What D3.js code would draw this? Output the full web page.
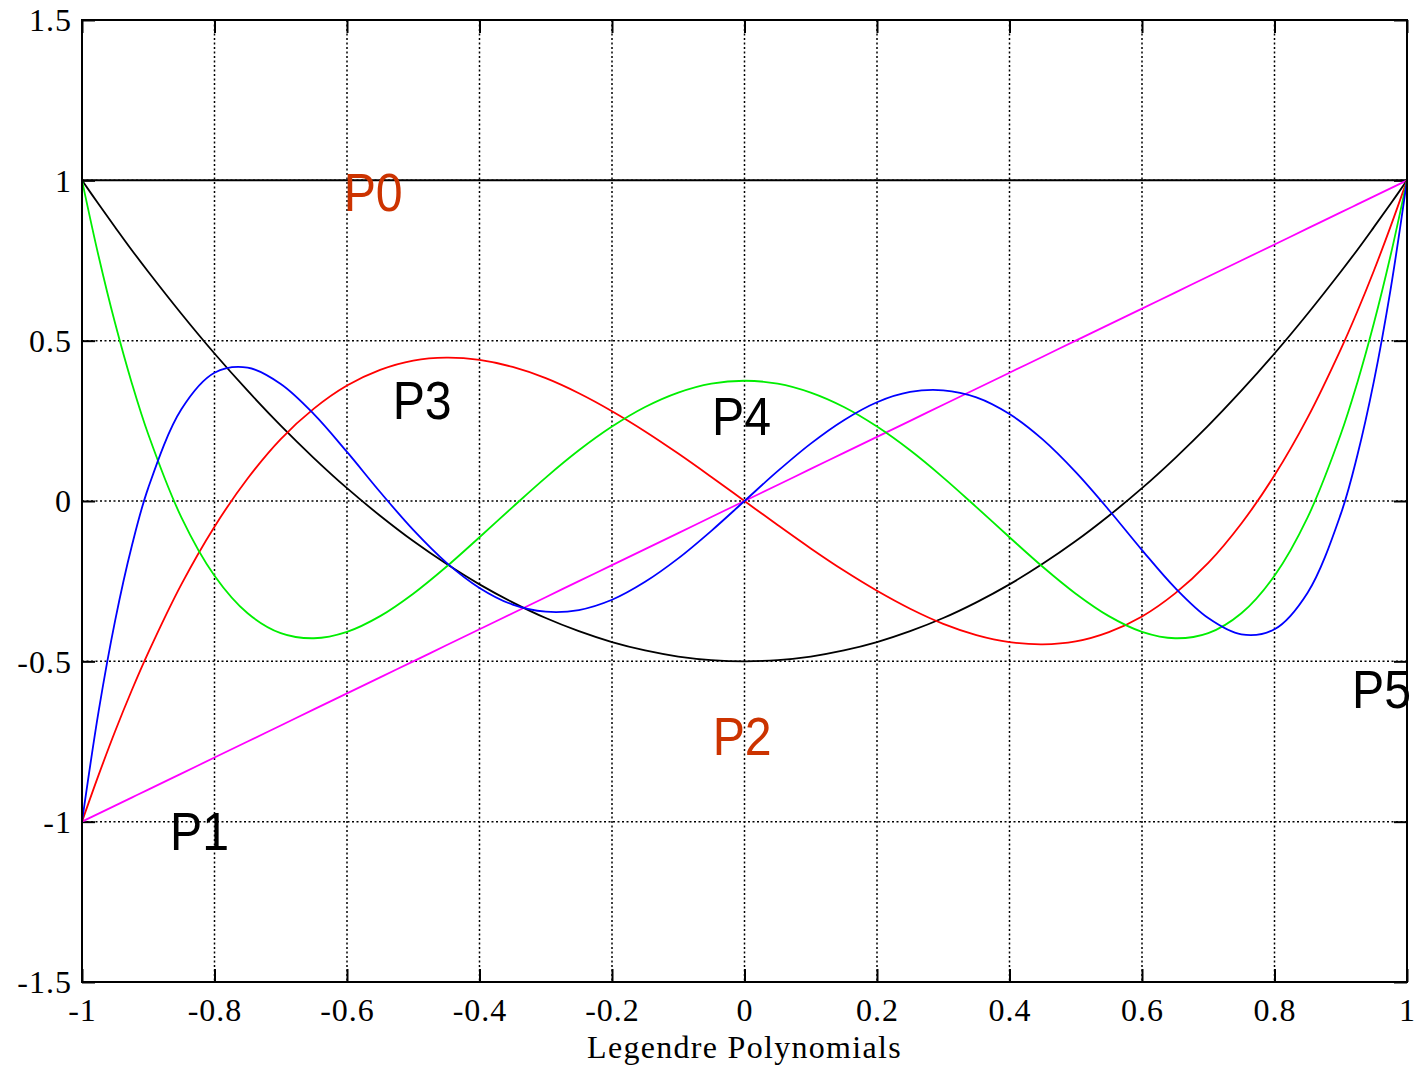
<!DOCTYPE html>
<html>
<head>
<meta charset="utf-8">
<script src="https://cdn.jsdelivr.net/npm/d3@7"></script>
<style>
  html, body { margin: 0; padding: 0; background: #fff; }
  svg { display: block; }
  .tick-label { font-family: "Liberation Serif", "Times New Roman", serif; font-size: 32px; letter-spacing: 1px; fill: #000; }
  .poly-label { font-family: "Liberation Sans", Arial, sans-serif; font-size: 53px; }
</style>
</head>
<body>
<div id="chart"></div>
<script>
// sample positions along the x axis
const xs = [-1, -0.975, -0.95, -0.925, -0.9, -0.85, -0.8, -0.75, -0.7, -0.65, -0.6, -0.55, -0.5, -0.45,
  -0.4, -0.35, -0.3, -0.25, -0.2, -0.15, -0.1, -0.05, 0, 0.05, 0.1, 0.15, 0.2, 0.25, 0.3, 0.35, 0.4,
  0.45, 0.5, 0.55, 0.6, 0.65, 0.7, 0.75, 0.8, 0.85, 0.9, 0.925, 0.95, 0.975, 1];

// values, one array per polynomial
const p0 = xs.map(() => 1);
const p1 = xs.slice();
const p2 = [1, 0.926, 0.854, 0.783, 0.715, 0.584, 0.46, 0.344, 0.235, 0.134, 0.04, -0.046, -0.125, -0.196,
  -0.26, -0.316, -0.365, -0.406, -0.44, -0.466, -0.485, -0.496, -0.5, -0.496, -0.485, -0.466, -0.44, -0.406,
  -0.365, -0.316, -0.26, -0.196, -0.125, -0.046, 0.04, 0.134, 0.235, 0.344, 0.46, 0.584, 0.715, 0.783,
  0.854, 0.926, 1];
const p3 = [-1, -0.855, -0.718, -0.591, -0.473, -0.26, -0.08, 0.07, 0.193, 0.288, 0.36, 0.409, 0.438, 0.447,
  0.44, 0.418, 0.383, 0.336, 0.28, 0.217, 0.148, 0.075, 0, -0.075, -0.148, -0.217, -0.28, -0.336, -0.383,
  -0.418, -0.44, -0.447, -0.438, -0.409, -0.36, -0.288, -0.193, -0.07, 0.08, 0.26, 0.473, 0.591, 0.718,
  0.855, 1];
const p4 = [1, 0.764, 0.554, 0.369, 0.208, -0.051, -0.233, -0.35, -0.412, -0.428, -0.408, -0.359, -0.289,
  -0.205, -0.113, -0.019, 0.073, 0.158, 0.232, 0.293, 0.338, 0.366, 0.375, 0.366, 0.338, 0.293, 0.232,
  0.158, 0.073, -0.019, -0.113, -0.205, -0.289, -0.359, -0.408, -0.428, -0.412, -0.35, -0.233, -0.051,
  0.208, 0.369, 0.554, 0.764, 1];
const p5 = [-1, -0.657, -0.373, -0.142, 0.041, 0.286, 0.4, 0.416, 0.365, 0.271, 0.153, 0.028, -0.09, -0.192,
  -0.271, -0.323, -0.345, -0.34, -0.308, -0.252, -0.179, -0.093, 0, 0.093, 0.179, 0.252, 0.308, 0.34,
  0.345, 0.323, 0.271, 0.192, 0.09, -0.028, -0.153, -0.271, -0.365, -0.416, -0.4, -0.286, -0.041, 0.142,
  0.373, 0.657, 1];

const xTicks = [-1, -0.8, -0.6, -0.4, -0.2, 0, 0.2, 0.4, 0.6, 0.8, 1];
const yTicks = [-1.5, -1, -0.5, 0, 0.5, 1, 1.5];

// curve labels, anchored in data units (left edge, baseline)
const labelNames = ['P0', 'P1', 'P2', 'P3', 'P4', 'P5'];
const labelX = [-0.605, -0.867, -0.048, -0.531, -0.049, 0.917];
const labelY = [0.904, -1.088, -0.792, 0.256, 0.206, -0.646];

const W = 1417, H = 1078;
const plotLeft = 82, plotRight = 1407, plotTop = 20, plotBottom = 982;

const series = [
  { values: p0, color: '#000000', width: 2 },
  { values: p1, color: '#ff00ff', width: 1.8 },
  { values: p2, color: '#000000', width: 1.8 },
  { values: p3, color: '#ff0000', width: 1.8 },
  { values: p4, color: '#00ee00', width: 1.8 },
  { values: p5, color: '#0000ff', width: 1.8 }
];
const labelColors = ['#cc3300', '#000', '#cc3300', '#000', '#000', '#000'];

const svg = d3.select('#chart').append('svg')
  .attr('width', W)
  .attr('height', H);

const x = d3.scaleLinear().domain([-1, 1]).range([plotLeft, plotRight]);
const y = d3.scaleLinear().domain([-1.5, 1.5]).range([plotBottom, plotTop]);

// plain hyphen minus, like the original plot
const fmt = d => String(d);

// dotted grid
const grid = svg.append('g')
  .attr('stroke', '#000')
  .attr('stroke-width', 1.5)
  .attr('stroke-dasharray', '2,2.5');
grid.selectAll('.gx').data(xTicks.slice(1, -1)).enter().append('line')
  .attr('x1', d => x(d)).attr('x2', d => x(d))
  .attr('y1', plotTop).attr('y2', plotBottom);
grid.selectAll('.gy').data(yTicks.slice(1, -1)).enter().append('line')
  .attr('y1', d => y(d)).attr('y2', d => y(d))
  .attr('x1', plotLeft).attr('x2', plotRight);

// axes with inward ticks on all four sides
const tickLen = 13;
const axisBottom = d3.axisBottom(x).tickValues(xTicks).tickSizeInner(-tickLen).tickSizeOuter(0)
  .tickPadding(16).tickFormat(fmt);
const axisTop = d3.axisTop(x).tickValues(xTicks).tickSizeInner(-tickLen).tickSizeOuter(0).tickFormat('');
const axisLeft = d3.axisLeft(y).tickValues(yTicks).tickSizeInner(-tickLen).tickSizeOuter(0)
  .tickPadding(10).tickFormat(fmt);
const axisRight = d3.axisRight(y).tickValues(yTicks).tickSizeInner(-tickLen).tickSizeOuter(0).tickFormat('');

function styleAxis(g) {
  g.select('.domain').remove();
  g.selectAll('line').attr('stroke', '#000').attr('stroke-width', 2);
  g.attr('font-family', null).attr('font-size', null);
  g.selectAll('text').attr('class', 'tick-label');
}

svg.append('g').attr('transform', `translate(0,${plotBottom})`).call(axisBottom).call(styleAxis)
  .selectAll('text').attr('dy', '0.71em');
svg.append('g').attr('transform', `translate(0,${plotTop})`).call(axisTop).call(styleAxis);
svg.append('g').attr('transform', `translate(${plotLeft},0)`).call(axisLeft).call(styleAxis)
  .selectAll('text').attr('dy', '0.34em');
svg.append('g').attr('transform', `translate(${plotRight},0)`).call(axisRight).call(styleAxis);

// curves
const line = d3.line()
  .x((d, i) => x(xs[i]))
  .y(d => y(d))
  .curve(d3.curveCatmullRom.alpha(0.5));

svg.append('g').attr('fill', 'none').selectAll('path').data(series).enter().append('path')
  .attr('d', d => line(d.values))
  .attr('stroke', d => d.color)
  .attr('stroke-width', d => d.width)
  .attr('stroke-linejoin', 'round');

// frame
svg.append('rect')
  .attr('x', plotLeft).attr('y', plotTop)
  .attr('width', plotRight - plotLeft).attr('height', plotBottom - plotTop)
  .attr('fill', 'none').attr('stroke', '#000').attr('stroke-width', 2);

// curve labels
svg.append('g').selectAll('text').data(labelNames).enter().append('text')
  .attr('class', 'poly-label')
  .attr('transform', (d, i) => `translate(${x(labelX[i])},${y(labelY[i])}) scale(0.91,1)`)
  .attr('fill', (d, i) => labelColors[i])
  .text(d => d);

// x axis title
svg.append('text')
  .attr('class', 'tick-label')
  .attr('x', (plotLeft + plotRight) / 2)
  .attr('y', 1058)
  .attr('text-anchor', 'middle')
  .style('letter-spacing', '1.3px')
  .text('Legendre Polynomials');
</script>
</body>
</html>
